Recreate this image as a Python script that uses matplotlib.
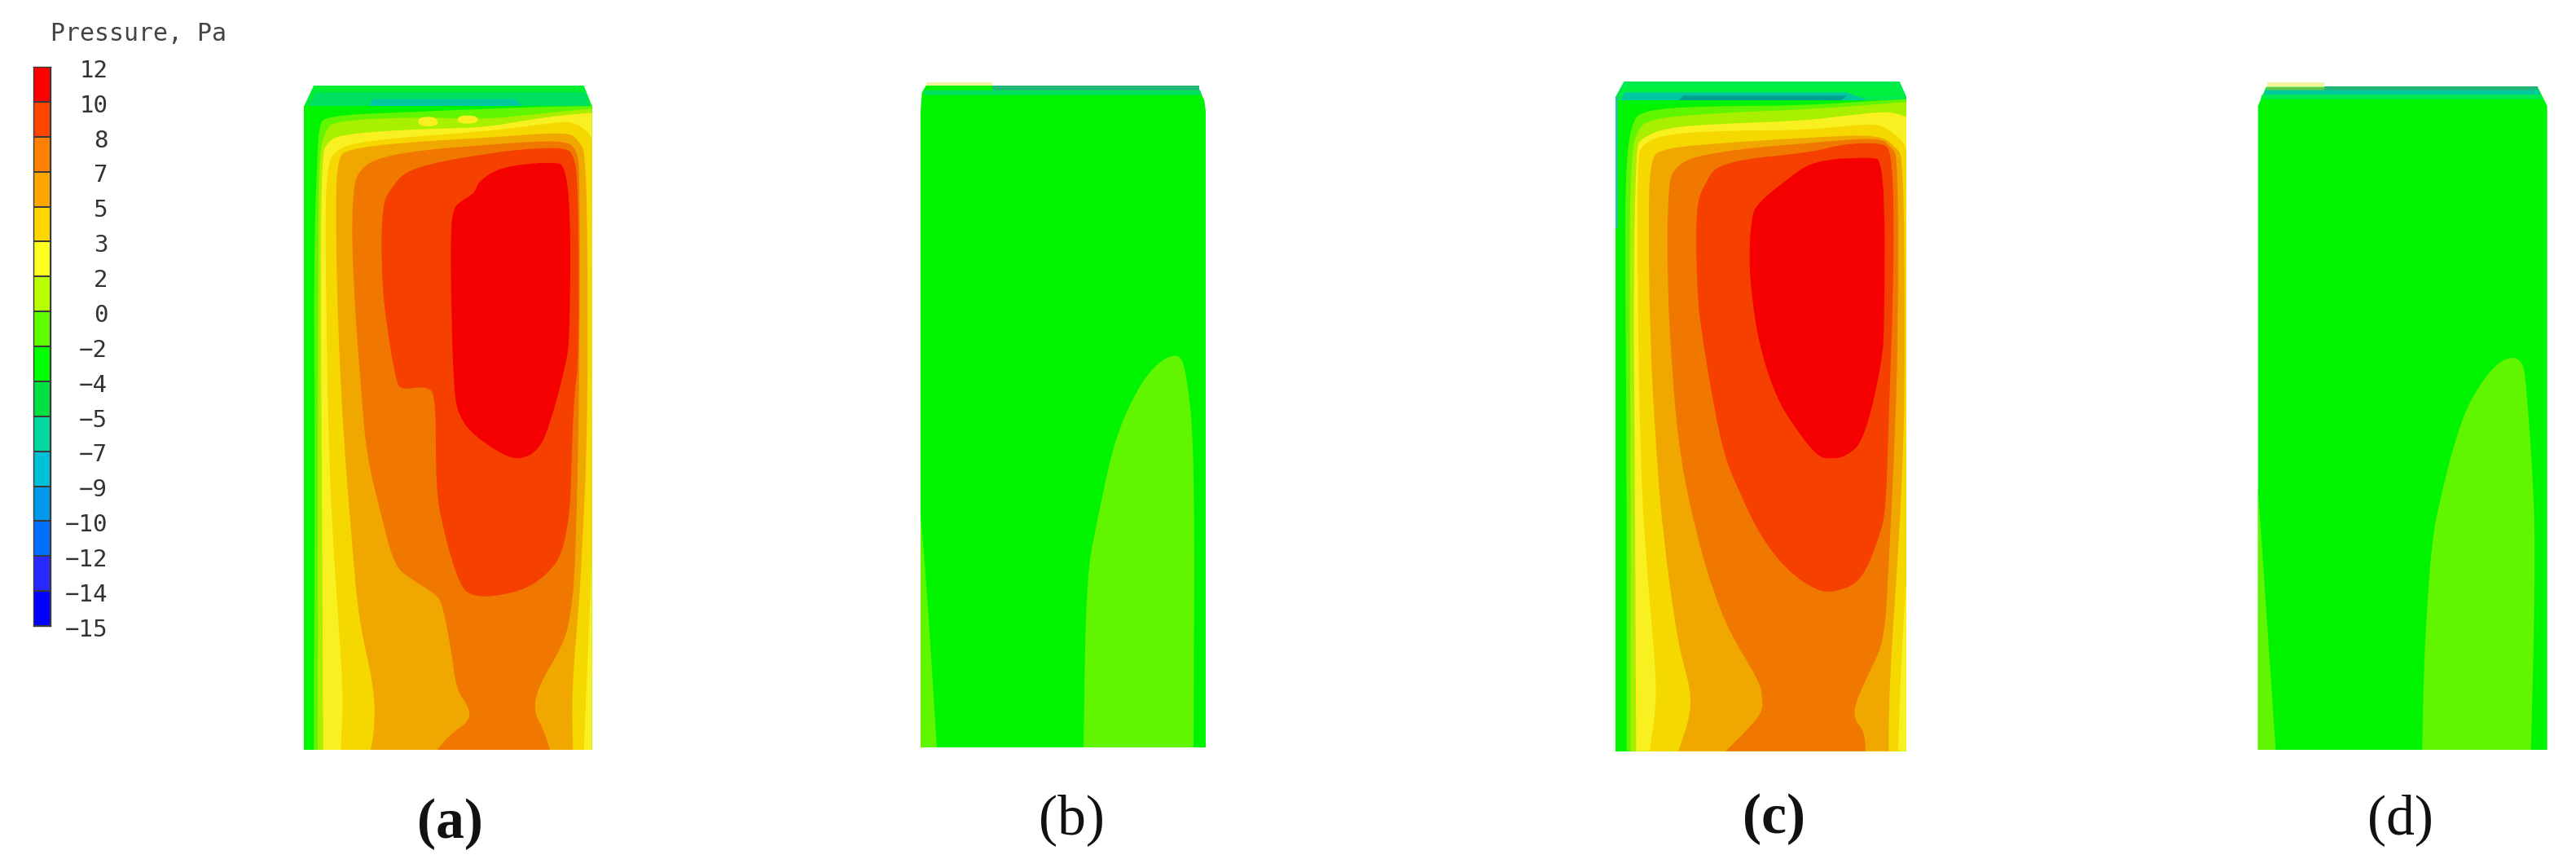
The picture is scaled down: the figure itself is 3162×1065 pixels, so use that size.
import matplotlib
matplotlib.use("Agg")
import matplotlib.pyplot as plt
from matplotlib.colors import ListedColormap
from matplotlib.patches import PathPatch
from matplotlib.path import Path
import numpy as np

WIDTH, HEIGHT = 3162, 1065

# colour scale
scale_labels = ["12", "10", "8", "7", "5", "3", "2", "0", "\u22122", "\u22124", "\u22125",
                "\u22127", "\u22129", "\u221210", "\u221212", "\u221214", "\u221215"]
scale_colors = ["#ff0000", "#ff4500", "#ff7f00", "#ffa500", "#ffd700", "#ffff20", "#b8ff00", "#60ff00",
                "#00ff00", "#00e040", "#00d8a0", "#00c0d8", "#0098e8", "#0070ff", "#2828ff", "#0000ff"]

# colours used inside the contour panels
RED = "#f50000"
ORANGERED = "#f54000"
ORANGE = "#f07800"
AMBER = "#f0a800"
GOLD = "#f5d800"
YELLOW = "#f8f020"
YGREEN = "#a8f000"
LIME = "#62f500"
GREEN = "#00f400"
MINT = "#00e060"
TEAL = "#00c8a0"
DEEP = "#20b878"

# panel (a): region outlines, outermost first
a_body = [(100, 150), (135, 75), (1130, 75), (1160, 150), (1160, 2520), (100, 2520)]
a_cap = [(115, 150), (140, 100), (1135, 100), (1150, 150)]
a_cap_teal = [(340, 150), (350, 125), (880, 125), (900, 150)]
a_body_green = [(100, 150), (1160, 150), (1160, 2520), (100, 2520)]
a_lime = [(135, 2520), (140, 1440), (135, 700), (150, 300), (155, 230), (175, 185), (500, 172),
          (900, 155), (1160, 150), (1160, 2520)]
a_ygreen = [(150, 2520), (150, 1440), (152, 700), (155, 320), (180, 240), (210, 205), (510, 190),
            (760, 200), (950, 180), (1160, 160), (1160, 2520)]
a_yellow = [(170, 2520), (165, 1440), (160, 800), (165, 330), (185, 285), (230, 255), (500, 235),
            (760, 230), (900, 205), (1040, 185), (1160, 175), (1160, 2520)]
a_islet1 = [(520, 190), (590, 190), (595, 225), (520, 225)]
a_islet2 = [(665, 185), (740, 185), (740, 215), (665, 215)]
a_gold = [(235, 2520), (245, 2300), (215, 1900), (190, 1440), (180, 800), (178, 400), (215, 300),
          (400, 270), (760, 245), (1000, 215), (1085, 205), (1140, 240), (1160, 270), (1160, 1800),
          (1150, 2040), (1130, 2520)]
a_amber = [(345, 2520), (360, 2440), (358, 2290), (300, 2040), (275, 1740), (250, 1440), (225, 1000),
           (215, 500), (225, 340), (260, 310), (450, 285), (800, 265), (1070, 245), (1110, 275),
           (1140, 330), (1145, 1000), (1140, 1440), (1125, 1750), (1115, 1950), (1085, 2300), (1090, 2520)]
a_orange = [(590, 2520), (640, 2460), (715, 2410), (700, 2350), (660, 2300), (640, 2140), (610, 1990),
            (590, 1950), (490, 1890), (430, 1840), (380, 1640), (330, 1440), (310, 1200), (280, 800),
            (275, 500), (300, 370), (450, 320), (800, 290), (1060, 275), (1105, 310), (1115, 400),
            (1115, 1100), (1100, 1840), (1080, 2040), (1050, 2140), (960, 2290), (945, 2380),
            (980, 2440), (1005, 2520)]
a_orangered = [(385, 520), (420, 450), (490, 375), (800, 320), (960, 305), (1060, 305), (1090, 325),
               (1110, 420), (1112, 1100), (1095, 1200), (1085, 1440), (1080, 1640), (1050, 1800),
               (1000, 1870), (900, 1940), (710, 1965), (660, 1880), (610, 1700), (585, 1560),
               (585, 1230), (560, 1180), (460, 1195), (440, 1170), (410, 1000), (385, 800)]
a_red = [(640, 600), (650, 530), (670, 505), (730, 470), (740, 430), (820, 375), (1000, 355), (1080, 370),
         (1080, 1000), (1060, 1120), (1000, 1340), (960, 1420), (900, 1450), (840, 1440), (720, 1360),
         (670, 1290), (650, 1200), (640, 800)]

# panel (c)
c_body = [(70, 115), (100, 60), (1115, 60), (1140, 115), (1140, 2525), (70, 2525)]
c_cap = [(85, 115), (105, 75), (1110, 75), (1130, 115)]
c_cap_teal = [(90, 130), (100, 100), (920, 100), (1000, 130)]
c_cap_deep = [(300, 130), (320, 112), (920, 112), (900, 130)]
c_body_green = [(70, 130), (1140, 130), (1140, 2525), (70, 2525)]
c_edge = [(70, 115), (78, 115), (78, 600), (70, 600)]
c_lime = [(110, 2525), (110, 1440), (105, 800), (105, 400), (125, 220), (165, 165), (400, 150),
          (720, 150), (960, 135), (1140, 125), (1140, 2525)]
c_ygreen = [(125, 2525), (125, 1440), (120, 800), (125, 360), (145, 240), (200, 195), (460, 175),
            (720, 165), (960, 150), (1140, 135), (1140, 2525)]
c_yellow = [(145, 2525), (140, 1440), (135, 800), (145, 300), (165, 270), (250, 230), (460, 215),
            (760, 205), (960, 180), (1080, 170), (1140, 190), (1140, 2525)]
c_gold = [(195, 2525), (220, 2350), (215, 2200), (180, 1800), (160, 1440), (150, 800), (150, 340),
          (165, 295), (240, 255), (480, 240), (770, 240), (1000, 215), (1060, 225), (1130, 280),
          (1140, 320), (1140, 1900), (1120, 2200), (1110, 2525)]
c_amber = [(300, 2525), (345, 2395), (345, 2290), (300, 2140), (245, 1740), (220, 1440), (195, 1000),
           (190, 500), (200, 350), (230, 310), (400, 290), (800, 265), (1040, 255), (1100, 300),
           (1130, 340), (1135, 1000), (1130, 1440), (1100, 1950), (1085, 2150), (1075, 2400), (1075, 2525)]
c_orange = [(475, 2525), (560, 2440), (610, 2380), (610, 2330), (600, 2270), (490, 2090), (430, 1940),
            (370, 1740), (305, 1440), (275, 1100), (260, 800), (260, 500), (280, 355), (500, 310),
            (800, 285), (1040, 265), (1085, 300), (1110, 340), (1110, 1000), (1095, 1440), (1075, 1840),
            (1060, 2120), (1000, 2240), (935, 2390), (985, 2450), (990, 2525)]
c_orangered = [(365, 520), (395, 440), (450, 355), (800, 320), (900, 290), (1050, 285), (1085, 315),
               (1095, 550), (1090, 900), (1075, 1300), (1065, 1640), (1040, 1740), (975, 1900), (880, 1940),
               (810, 1935), (700, 1860), (600, 1730), (520, 1560), (470, 1440), (430, 1250), (380, 950),
               (368, 800)]
c_red = [(560, 700), (570, 560), (590, 510), (700, 420), (800, 350), (1000, 338), (1060, 350), (1060, 950),
         (1050, 1100), (985, 1380), (920, 1440), (860, 1450), (810, 1440), (720, 1320), (660, 1220),
         (600, 1040), (570, 850)]

# panel (b)
b_body = [(120, 170), (125, 100), (140, 75), (1140, 75), (1165, 130), (1170, 170), (1170, 2511), (120, 2511)]
b_top_pale = [(140, 62), (385, 62), (385, 78), (140, 78)]
b_band_deep = [(385, 75), (1145, 75), (1145, 92), (385, 92)]
b_band_mint = [(135, 92), (1150, 92), (1155, 110), (130, 110)]
b_lime = [(720, 2511), (730, 1884), (770, 1677), (830, 1394), (900, 1225), (980, 1102), (1070, 1055),
          (1100, 1130), (1130, 1432), (1125, 2511)]
b_sliver = [(120, 1658), (140, 1884), (180, 2511), (120, 2511)]

# panel (d)
d_body = [(95, 150), (125, 80), (1125, 80), (1160, 150), (1160, 2520), (95, 2520)]
d_top_pale = [(130, 62), (340, 62), (340, 80), (130, 80)]
d_band_left = [(125, 80), (340, 80), (340, 92), (125, 92)]
d_band_deep = [(340, 78), (1125, 78), (1125, 92), (340, 92)]
d_band_teal = [(120, 92), (1130, 92), (1135, 108), (115, 108)]
d_band_mint = [(110, 108), (1135, 108), (1145, 125), (105, 125)]
d_lime = [(700, 2520), (705, 2240), (715, 2040), (735, 1750), (765, 1600), (820, 1380), (880, 1220),
          (985, 1080), (1070, 1075), (1085, 1200), (1110, 1560), (1115, 1800), (1110, 2140), (1100, 2520)]
d_sliver = [(95, 1560), (125, 2000), (160, 2520), (95, 2520)]

panel_labels = ["(a)", "(b)", "(c)", "(d)"]
label_x = [552, 1315, 2178, 2946]
label_y = [1011, 1006, 1005, 1006]
label_weight = ["bold", "normal", "bold", "normal"]
panel_left = [340, 1090, 1960, 2740]


def fill_plain(ax, outline, color):
    xs, ys = zip(*outline)
    ax.fill(xs, ys, color=color, linewidth=0)


def fill_smooth(ax, outline, color, body):
    # rounded contour through quadratic curves, points on the panel edge stay sharp
    right = max(p[0] for p in body)
    left = min(p[0] for p in body)
    bottom = max(p[1] for p in body)
    n = len(outline)
    mid = [((outline[i][0] + outline[(i + 1) % n][0]) / 2, (outline[i][1] + outline[(i + 1) % n][1]) / 2)
           for i in range(n)]
    verts = [mid[-1]]
    codes = [Path.MOVETO]
    for i, p in enumerate(outline):
        if p[0] >= right or p[0] <= left or p[1] >= bottom:
            verts += [p, mid[i]]
            codes += [Path.LINETO, Path.LINETO]
        else:
            verts += [p, mid[i]]
            codes += [Path.CURVE3, Path.CURVE3]
    ax.add_patch(PathPatch(Path(verts, codes), facecolor=color, edgecolor="none", linewidth=0))


def new_panel(fig, left):
    # each panel uses units of a third of a pixel, starting at y=80
    ax = fig.add_axes([left / WIDTH, 0, 420 / WIDTH, 985 / HEIGHT])
    ax.set_xlim(0, 1260)
    ax.set_ylim(2955, 0)
    ax.axis("off")
    return ax


def draw_scale(fig):
    ax = fig.add_axes([41 / WIDTH, 1 - 768 / HEIGHT, 21 / WIDTH, 686 / HEIGHT])
    cores = ListedColormap(scale_colors[::-1])
    grid = np.arange(len(scale_colors)).reshape(-1, 1)
    ax.pcolormesh(grid, cmap=cores, edgecolors="#3a3a3a", linewidth=1.2)
    ax.set_xticks([])
    ax.set_yticks([])
    for lado in ax.spines.values():
        lado.set_color("#3a3a3a")
        lado.set_linewidth(1.0)
    for i, label in enumerate(scale_labels[::-1]):
        ax.annotate(label, (1, i), xycoords=("axes fraction", "data"), xytext=(50.5, -3.5),
                    textcoords="offset points", ha="right", va="center", fontsize=21,
                    family="DejaVu Sans Mono", color="#333333")
    fig.text(62 / WIDTH, 1 - 41 / HEIGHT, "Pressure, Pa", fontsize=21.5, family="DejaVu Sans Mono",
             color="#444444", ha="left", va="center")


fig = plt.figure(figsize=(WIDTH / 100, HEIGHT / 100), dpi=100, facecolor="white")
draw_scale(fig)

ax_a = new_panel(fig, panel_left[0])
for outline, color in [(a_body, "#00ee30"), (a_cap, MINT), (a_cap_teal, TEAL), (a_body_green, GREEN)]:
    fill_plain(ax_a, outline, color)
for outline, color in [(a_lime, LIME), (a_ygreen, YGREEN), (a_yellow, YELLOW), (a_islet1, YELLOW),
                       (a_islet2, YELLOW), (a_gold, GOLD), (a_amber, AMBER), (a_orange, ORANGE),
                       (a_orangered, ORANGERED), (a_red, RED)]:
    fill_smooth(ax_a, outline, color, a_body)

ax_b = new_panel(fig, panel_left[1])
for outline, color in [(b_top_pale, "#f4f4a0"), (b_body, GREEN), (b_band_deep, DEEP), (b_band_mint, MINT)]:
    fill_plain(ax_b, outline, color)
for outline, color in [(b_lime, LIME), (b_sliver, LIME)]:
    fill_smooth(ax_b, outline, color, b_body)

ax_c = new_panel(fig, panel_left[2])
for outline, color in [(c_body, "#00ea50"), (c_cap, "#00f040"), (c_cap_teal, TEAL), (c_cap_deep, "#00a090"),
                       (c_body_green, GREEN), (c_edge, "#20c890")]:
    fill_plain(ax_c, outline, color)
for outline, color in [(c_lime, LIME), (c_ygreen, YGREEN), (c_yellow, YELLOW), (c_gold, GOLD),
                       (c_amber, AMBER), (c_orange, ORANGE), (c_orangered, ORANGERED), (c_red, RED)]:
    fill_smooth(ax_c, outline, color, c_body)

ax_d = new_panel(fig, panel_left[3])
for outline, color in [(d_top_pale, "#f4f4a0"), (d_body, GREEN), (d_band_left, "#60c850"), (d_band_deep, DEEP),
                       (d_band_teal, TEAL), (d_band_mint, "#00ea50")]:
    fill_plain(ax_d, outline, color)
for outline, color in [(d_lime, LIME), (d_sliver, LIME)]:
    fill_smooth(ax_d, outline, color, d_body)

for texto, x, y, peso in zip(panel_labels, label_x, label_y, label_weight):
    fig.text(x / WIDTH, 1 - y / HEIGHT, texto, fontsize=50, family="Liberation Serif", weight=peso,
             ha="center", va="center", color="#111111")

fig.savefig("out.png", dpi=100, facecolor="white")
